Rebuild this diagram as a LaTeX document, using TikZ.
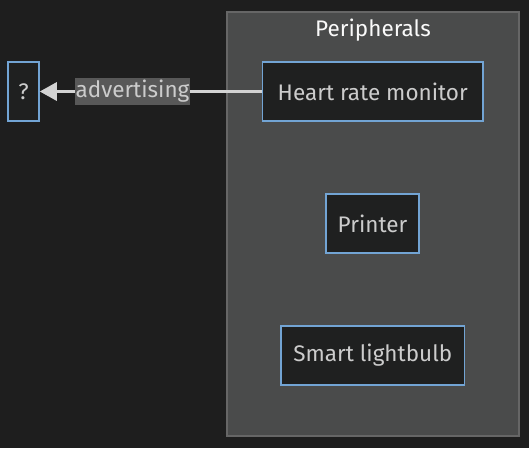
\documentclass[tikz,border=0pt]{standalone}
\usepackage{fontspec}
\setmainfont{Fira Sans}
\usetikzlibrary{arrows.meta}
\definecolor{bg}{HTML}{1E1E1E}
\definecolor{nodefill}{HTML}{1F2020}
\definecolor{nodeline}{HTML}{72A4D4}
\definecolor{clfill}{HTML}{4A4B4B}
\definecolor{clline}{HTML}{666666}
\definecolor{txt}{HTML}{CCCCCC}
\definecolor{edge}{HTML}{D3D3D3}
\definecolor{lblbg}{HTML}{585858}
\tikzset{
  nodebox/.style={draw=nodeline, fill=nodefill, line width=1.5pt, text=txt, inner sep=0pt, font=\fontsize{22.5}{27}\selectfont},
  edgelabel/.style={fill=lblbg, text=txt, inner sep=0pt, font=\fontsize{22.5}{27}\selectfont},
}
\begin{document}
\begin{tikzpicture}[x=1pt,y=-1pt]
\fill[bg] (0,0) rectangle (529,448);
\useasboundingbox (0,0) rectangle (529,448);
\filldraw[fill=clfill, draw=clline, line width=1.5pt] (227,12) rectangle (519,436);
\node[text=white!90!txt, font=\fontsize{22.5}{27}\selectfont] (title) at (373,30) {Peripherals};
\node[nodebox, minimum width=220.5pt, minimum height=59pt] (hrm) at (372.75,91.5) {Heart rate monitor};
\node[nodebox, minimum width=93pt, minimum height=59pt] (printer) at (372.5,223.5) {Printer};
\node[nodebox, minimum width=183.5pt, minimum height=59pt] (bulb) at (372.75,355.5) {Smart lightbulb};
\node[nodebox, minimum width=31pt, minimum height=59pt] (q) at (23.5,91.5) {?};
\draw[edge, line width=3pt, -{Triangle[length=17pt,width=18pt]}] (hrm.west) -- (q.east);
\node[edgelabel, minimum width=115pt, minimum height=27pt] (lbl) at (132.5,91.5) {advertising};
\end{tikzpicture}
\end{document}
